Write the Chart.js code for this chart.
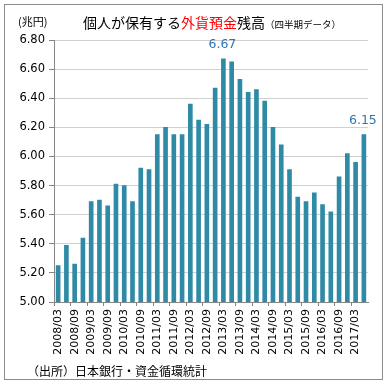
<!DOCTYPE html>
<html>
<head>
<meta charset="utf-8">
<script src="https://cdn.jsdelivr.net/npm/chart.js@4.4.0/dist/chart.umd.min.js"></script>
<style>
  html, body { margin: 0; padding: 0; background: #fff; }
  #wrap { position: relative; width: 387px; height: 384px; }
</style>
</head>
<body>
<div id="wrap"><canvas id="chart" width="387" height="384"></canvas></div>
<script>
// quarterly labels 2008/03 .. 2017/06
const quarters = [
  '2008/03','2008/06','2008/09','2008/12','2009/03','2009/06','2009/09','2009/12',
  '2010/03','2010/06','2010/09','2010/12','2011/03','2011/06','2011/09','2011/12',
  '2012/03','2012/06','2012/09','2012/12','2013/03','2013/06','2013/09','2013/12',
  '2014/03','2014/06','2014/09','2014/12','2015/03','2015/06','2015/09','2015/12',
  '2016/03','2016/06','2016/09','2016/12','2017/03','2017/06'
];
// 外貨預金残高 (兆円)
const deposits = [
  5.25, 5.39, 5.26, 5.44, 5.69, 5.70, 5.66, 5.81,
  5.80, 5.69, 5.92, 5.91, 6.15, 6.20, 6.15, 6.15,
  6.36, 6.25, 6.22, 6.47, 6.67, 6.65, 6.53, 6.44,
  6.46, 6.38, 6.20, 6.08, 5.91, 5.72, 5.69, 5.75,
  5.67, 5.62, 5.86, 6.02, 5.96, 6.15
];
const labelled = { 20: '6.67', 37: '6.15' };
const yTicks = [5.0, 5.2, 5.4, 5.6, 5.8, 6.0, 6.2, 6.4, 6.6, 6.8];

const FONT = '"DejaVu Sans", sans-serif';
const JP = '"Noto Sans CJK JP", sans-serif';

const decor = {
  id: 'decor',
  afterDraw(chart) {
    const ctx = chart.ctx;
    ctx.save();
    // frame
    ctx.strokeStyle = '#8c8c8c';
    ctx.lineWidth = 1;
    ctx.strokeRect(4.5, 4.5, 378, 375);

    // title with red part
    ctx.textBaseline = 'alphabetic';
    const parts = [
      ['個人が保有する', '#000', '14px ' + JP],
      ['外貨預金', '#ff0000', '14px ' + JP],
      ['残高', '#000', '14px ' + JP],
      ['（四半期データ）', '#000', '9.5px ' + JP]
    ];
    let x = 83;
    parts.forEach(([t, c, f]) => {
      ctx.font = f;
      ctx.fillStyle = c;
      ctx.fillText(t, x, 28);
      x += ctx.measureText(t).width;
    });

    ctx.font = '11px ' + JP;
    ctx.fillStyle = '#000';
    ctx.fillText('(兆円)', 18, 26);

    // value labels
    const meta = chart.getDatasetMeta(0);
    ctx.font = '12.5px ' + FONT;
    ctx.fillStyle = '#2e75b6';
    ctx.textAlign = 'center';
    Object.keys(labelled).forEach(i => {
      const bar = meta.data[i];
      ctx.fillText(labelled[i], bar.x - 1, bar.y - 11);
    });

    // source
    ctx.textAlign = 'left';
    ctx.font = '12px ' + JP;
    ctx.fillStyle = '#000';
    ctx.fillText('（出所）日本銀行・資金循環統計', 27, 376);
    ctx.restore();
  }
};

new Chart(document.getElementById('chart'), {
  type: 'bar',
  data: {
    labels: quarters,
    datasets: [{
      data: deposits,
      backgroundColor: function(context) {
        const {ctx} = context.chart;
        const el = context.element;
        if (!el || el.x === undefined) return '#2f8aa6';
        const g = ctx.createLinearGradient(el.x - 2, 0, el.x + 2, 0);
        g.addColorStop(0, '#3aa2bf');
        g.addColorStop(1, '#256f86');
        return g;
      },
      borderWidth: 0,
      barThickness: 4
    }]
  },
  plugins: [decor],
  options: {
    responsive: false,
    animation: false,
    layout: { padding: { left: 0, right: 19, top: 40, bottom: 0 } },
    plugins: { legend: { display: false }, tooltip: { enabled: false } },
    scales: {
      x: {
        offset: true,
        afterFit: s => { s.height = 82; },
        grid: {
          offset: true,
          drawOnChartArea: false,
          drawTicks: true,
          tickLength: 4,
          color: c => (c.index % 2 === 0 ? '#868686' : 'rgba(0,0,0,0)')
        },
        border: { color: '#868686' },
        ticks: {
          autoSkip: false,
          maxRotation: 90,
          minRotation: 90,
          padding: 3,
          color: '#000',
          font: { family: FONT, size: 11 },
          callback: (v, i) => (i % 2 === 0 ? quarters[i] : '')
        }
      },
      y: {
        min: 5.0,
        max: 6.8,
        afterFit: s => { s.width = 54; },
        afterBuildTicks: s => { s.ticks = yTicks.map(v => ({ value: v })); },
        grid: {
          color: c => (c.tick && c.tick.value === 5.0 ? 'rgba(0,0,0,0)' : '#d0d0d0'),
          tickLength: 5,
          tickColor: '#868686'
        },
        border: { color: '#868686' },
        ticks: {
          color: '#000',
          padding: 4,
          font: { family: FONT, size: 11.5 },
          callback: v => v.toFixed(2)
        }
      }
    }
  }
});
</script>
</body>
</html>
